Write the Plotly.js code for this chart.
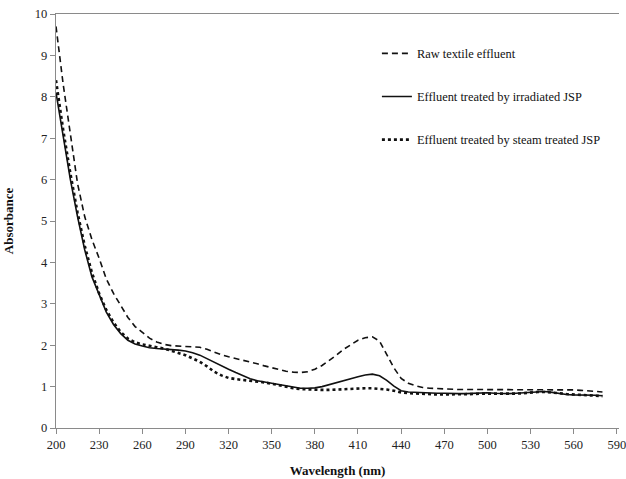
<!DOCTYPE html>
<html>
<head>
<meta charset="utf-8">
<script src="https://cdn.plot.ly/plotly-3.0.1.min.js"></script>
<style>html,body{margin:0;padding:0;background:#fff;}#chart{width:626px;height:479px;}</style>
</head>
<body>
<div id="chart"></div>
<script>
var wavelength = [200,205,210,215,220,225,230,235,240,245,250,255,260,265,270,275,280,285,290,295,
  300,305,310,315,320,325,330,335,340,345,350,355,360,365,370,375,380,385,390,395,
  400,405,410,415,420,425,430,435,440,445,450,455,460,465,470,475,480,485,490,495,
  500,505,510,515,520,525,530,535,540,545,550,555,560,565,570,575,580];

var rawEffluent = [9.7,8.3,7.1,5.9,5.1,4.55,4.1,3.6,3.25,2.95,2.67,2.45,2.3,2.17,2.08,2.02,1.99,1.98,1.97,1.97,
  1.95,1.9,1.83,1.77,1.72,1.68,1.64,1.59,1.55,1.5,1.46,1.41,1.37,1.35,1.34,1.36,1.42,1.51,1.63,1.76,
  1.9,2.02,2.12,2.18,2.2,2.1,1.78,1.45,1.2,1.08,1.02,0.98,0.96,0.95,0.94,0.94,0.93,0.93,0.93,0.93,
  0.93,0.93,0.93,0.93,0.93,0.93,0.93,0.93,0.93,0.93,0.93,0.93,0.92,0.91,0.9,0.88,0.87];

var irradiatedJSP = [8.1,7.0,6.0,5.1,4.3,3.65,3.2,2.8,2.5,2.28,2.12,2.03,1.98,1.94,1.92,1.91,1.9,1.88,1.86,1.82,
  1.76,1.67,1.58,1.5,1.42,1.34,1.26,1.19,1.14,1.11,1.09,1.06,1.02,0.99,0.96,0.96,0.97,1.0,1.05,1.1,
  1.14,1.19,1.24,1.28,1.3,1.26,1.15,1.01,0.9,0.87,0.86,0.85,0.85,0.84,0.84,0.83,0.83,0.83,0.84,0.85,
  0.85,0.84,0.83,0.83,0.84,0.85,0.87,0.88,0.88,0.86,0.83,0.81,0.8,0.8,0.79,0.79,0.78];

var steamJSP = [8.4,7.2,6.15,5.2,4.4,3.75,3.25,2.85,2.55,2.32,2.16,2.07,2.02,1.98,1.95,1.92,1.87,1.82,1.76,1.68,
  1.6,1.49,1.36,1.27,1.21,1.18,1.16,1.15,1.13,1.1,1.07,1.03,0.99,0.96,0.94,0.93,0.92,0.92,0.92,0.93,
  0.94,0.95,0.96,0.96,0.96,0.95,0.93,0.9,0.86,0.84,0.83,0.82,0.82,0.81,0.81,0.81,0.81,0.82,0.82,0.83,
  0.83,0.83,0.82,0.82,0.83,0.84,0.86,0.87,0.87,0.86,0.84,0.82,0.81,0.8,0.79,0.78,0.77];

var seriesNames = ["Raw textile effluent", "Effluent treated by irradiated JSP", "Effluent treated by steam treated JSP"];
var xTickVals = [200,230,260,290,320,350,380,410,440,470,500,530,560,590];
var yTickVals = [0,1,2,3,4,5,6,7,8,9,10];

var serif = "Liberation Serif, Times New Roman, serif";
var axisColor = "#8a8a8a";

var traces = [
  {x: wavelength, y: rawEffluent, name: seriesNames[0], mode: "lines", legendgroup: "a",
   line: {color: "#111", width: 1.6, dash: "6px,4px"}},
  {x: wavelength, y: irradiatedJSP, name: seriesNames[1], mode: "lines", legendgroup: "b",
   line: {color: "#111", width: 1.6}},
  {x: wavelength, y: steamJSP, name: seriesNames[2], mode: "lines", legendgroup: "c",
   line: {color: "#111", width: 2.6, dash: "dot"}}
];

var layout = {
  width: 626, height: 479,
  margin: {l: 56, r: 7, t: 14, b: 51},
  paper_bgcolor: "#fff", plot_bgcolor: "#fff",
  font: {family: serif, size: 12, color: "#222"},
  showlegend: true,
  legend: {x: 0.570, y: 0.94, xanchor: "left", yanchor: "top", bgcolor: "rgba(0,0,0,0)",
           font: {family: serif, size: 12.4, color: "#111"}, tracegroupgap: 24, itemwidth: 30},
  xaxis: {range: [200, 591.5], tickvals: xTickVals, ticktext: xTickVals.map(String),
          showgrid: false, zeroline: false, showline: true, linecolor: axisColor, linewidth: 1.3,
          mirror: true, ticks: "outside", ticklen: 5, tickcolor: axisColor, ticklabeloverflow: "allow",
          tickfont: {family: serif, size: 12.5, color: "#222"},
          title: {text: "<b>Wavelength (nm)</b>", font: {family: serif, size: 13, color: "#111"}, standoff: 14}},
  yaxis: {range: [0, 10], tickvals: yTickVals, showgrid: false, zeroline: false,
          showline: true, linecolor: axisColor, linewidth: 1.3, ticks: "outside", ticklen: 5,
          tickcolor: axisColor, tickfont: {family: serif, size: 12.5, color: "#222"},
          title: {text: "<b>Absorbance</b>", font: {family: serif, size: 13, color: "#111"}, standoff: 18}}
};

Plotly.newPlot("chart", traces, layout, {displayModeBar: false, staticPlot: true});
</script>
</body>
</html>
